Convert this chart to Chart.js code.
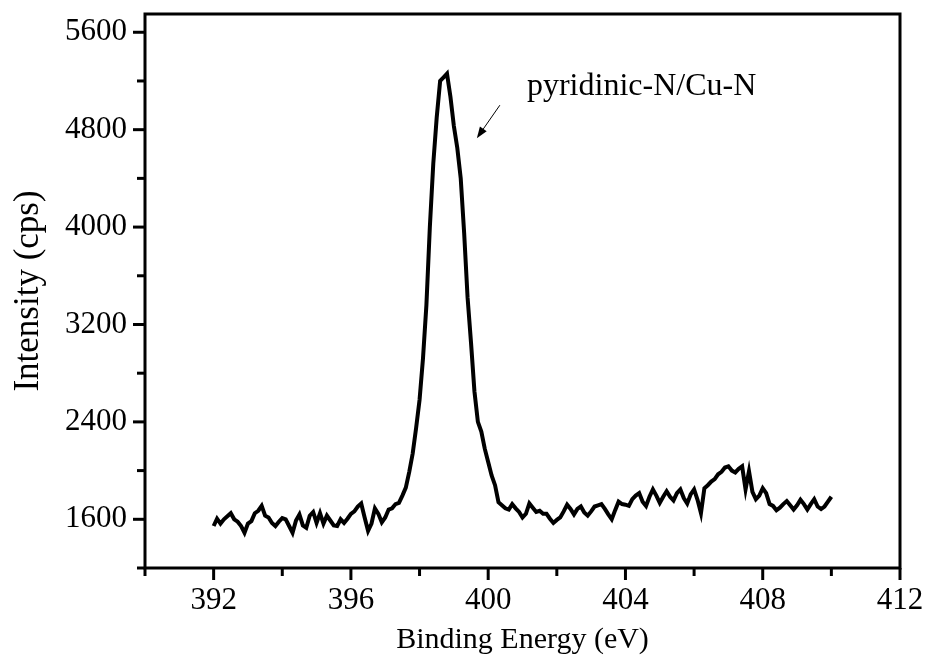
<!DOCTYPE html>
<html>
<head>
<meta charset="utf-8">
<script src="https://cdn.jsdelivr.net/npm/chart.js@4/dist/chart.umd.min.js"></script>
<style>
  body { margin: 0; background: #fff; }
</style>
</head>
<body>
<canvas id="xps" width="926" height="663"></canvas>
<script>
// N 1s spectrum, 392.0 - 410.0 eV, 0.1 eV step
const energyStart = 392.0;
const energyStep = 0.1;
const intensity = [
  1545, 1605, 1565, 1600, 1625, 1650, 1600, 1580, 1545, 1490,
  1565, 1585, 1650, 1670, 1710, 1630, 1615, 1570, 1545, 1580,
  1610, 1600, 1545, 1490, 1590, 1640, 1550, 1530, 1630, 1660,
  1570, 1650, 1565, 1630, 1590, 1550, 1545, 1600, 1570, 1605,
  1645, 1665, 1705, 1730, 1615, 1505, 1565, 1690, 1645, 1575,
  1615, 1680, 1690, 1725, 1735, 1795, 1860, 1990, 2140, 2350,
  2580, 2920, 3360, 4000, 4520, 4900, 5200, 5230, 5260, 5070,
  4830, 4650, 4400, 3950, 3420, 3050, 2650, 2400, 2320, 2180,
  2070, 1960, 1880, 1740, 1715, 1690, 1680, 1725, 1690, 1660,
  1615, 1645, 1730, 1695, 1660, 1670, 1645, 1645, 1605, 1570,
  1595, 1615, 1665, 1720, 1685, 1640, 1685, 1705, 1655, 1630,
  1665, 1705, 1715, 1725, 1685, 1640, 1600, 1675, 1745, 1725,
  1720, 1710, 1765, 1795, 1815, 1745, 1710, 1785, 1845, 1795,
  1735, 1785, 1830, 1785, 1755, 1815, 1845, 1775, 1730, 1805,
  1845, 1760, 1650, 1855, 1880, 1910, 1930, 1970, 1990, 2025,
  2035, 2000, 1985, 2015, 2035, 1845, 1995, 1825, 1765, 1795,
  1855, 1815, 1725, 1710, 1675, 1695, 1725, 1750, 1715, 1680,
  1715, 1760, 1725, 1680, 1725, 1765, 1705, 1685, 1705, 1745,
  1785
];

const xRange = [390, 412];
const yRange = [1200, 5750];
const xTicks = [390, 392, 394, 396, 398, 400, 402, 404, 406, 408, 410, 412];
const xLabels = [392, 396, 400, 404, 408, 412];
const yTicks = [1200, 1600, 2000, 2400, 2800, 3200, 3600, 4000, 4400, 4800, 5200, 5600];
const yLabels = [1600, 2400, 3200, 4000, 4800, 5600];

const peakLabel = "pyridinic-N/Cu-N";
const peakLabelAt = [401.13, 5083];
const arrowFrom = [400.34, 5001];
const arrowTo = [399.67, 4730];

const points = intensity.map((v, i) => ({
  x: +(energyStart + i * energyStep).toFixed(1),
  y: v
}));

const serif = "'Liberation Serif', 'Times New Roman', serif";

const frameAndTicks = {
  id: "frameAndTicks",
  afterDraw(chart) {
    const { ctx, chartArea: a, scales: { x, y } } = chart;
    ctx.save();
    ctx.strokeStyle = "#000";
    ctx.fillStyle = "#000";
    ctx.lineWidth = 3;
    ctx.strokeRect(a.left, a.top, a.right - a.left, a.bottom - a.top);

    xTicks.forEach(v => {
      const px = x.getPixelForValue(v);
      const len = xLabels.includes(v) ? 12 : 8;
      ctx.beginPath();
      ctx.moveTo(px, a.bottom);
      ctx.lineTo(px, a.bottom + len);
      ctx.stroke();
    });
    yTicks.forEach(v => {
      const py = y.getPixelForValue(v);
      const len = yLabels.includes(v) ? 12 : 8;
      ctx.beginPath();
      ctx.moveTo(a.left, py);
      ctx.lineTo(a.left - len, py);
      ctx.stroke();
    });

    // annotation
    ctx.font = "32px " + serif;
    ctx.textBaseline = "alphabetic";
    ctx.fillText(peakLabel, x.getPixelForValue(peakLabelAt[0]), y.getPixelForValue(peakLabelAt[1]));

    const x1 = x.getPixelForValue(arrowFrom[0]), y1 = y.getPixelForValue(arrowFrom[1]);
    const x2 = x.getPixelForValue(arrowTo[0]), y2 = y.getPixelForValue(arrowTo[1]);
    const ang = Math.atan2(y2 - y1, x2 - x1);
    ctx.lineWidth = 1;
    ctx.beginPath();
    ctx.moveTo(x1, y1);
    ctx.lineTo(x2 - 8 * Math.cos(ang), y2 - 8 * Math.sin(ang));
    ctx.stroke();
    ctx.beginPath();
    ctx.moveTo(x2, y2);
    ctx.lineTo(x2 - 12 * Math.cos(ang - 0.35), y2 - 12 * Math.sin(ang - 0.35));
    ctx.lineTo(x2 - 12 * Math.cos(ang + 0.35), y2 - 12 * Math.sin(ang + 0.35));
    ctx.closePath();
    ctx.fill();
    ctx.restore();
  }
};

new Chart(document.getElementById("xps"), {
  type: "line",
  data: {
    datasets: [{
      data: points,
      borderColor: "#000",
      borderWidth: 4,
      pointRadius: 0,
      tension: 0,
      fill: false
    }]
  },
  options: {
    responsive: false,
    animation: false,
    layout: { padding: { top: 14, right: 26, left: 0, bottom: 0 } },
    plugins: { legend: { display: false }, tooltip: { enabled: false } },
    scales: {
      x: {
        type: "linear",
        min: xRange[0],
        max: xRange[1],
        grid: { display: false, drawTicks: false },
        border: { display: false },
        afterBuildTicks: s => { s.ticks = xTicks.map(v => ({ value: v })); },
        afterFit: s => { s.height = 95; s.paddingLeft = 0; s.paddingRight = 0; },
        ticks: {
          color: "#000",
          padding: 14,
          maxRotation: 0,
          autoSkip: false,
          font: { family: serif, size: 31 },
          callback: v => (xLabels.includes(v) ? v : "")
        },
        title: {
          display: true,
          text: "Binding Energy (eV)",
          color: "#000",
          font: { family: serif, size: 30 },
          padding: { top: 0, bottom: 5 }
        }
      },
      y: {
        min: yRange[0],
        max: yRange[1],
        grid: { display: false, drawTicks: false },
        border: { display: false },
        afterBuildTicks: s => { s.ticks = yTicks.map(v => ({ value: v })); },
        afterFit: s => { s.width = 145; s.paddingTop = 0; s.paddingBottom = 0; },
        ticks: {
          color: "#000",
          padding: 18,
          autoSkip: false,
          font: { family: serif, size: 31 },
          callback: v => (yLabels.includes(v) ? v : "")
        },
        title: {
          display: true,
          text: "Intensity (cps)",
          color: "#000",
          font: { family: serif, size: 35 },
          padding: { top: 8, bottom: 0 }
        }
      }
    }
  },
  plugins: [frameAndTicks]
});
</script>
</body>
</html>
